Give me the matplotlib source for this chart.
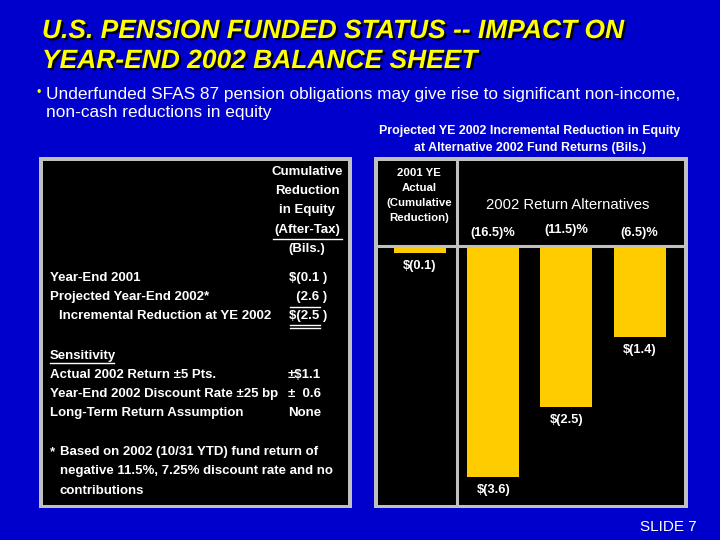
import matplotlib
matplotlib.use('Agg')
import matplotlib.pyplot as plt
import matplotlib.patheffects as pe
from matplotlib.patches import Rectangle

# Data
bar_labels = ['2001 YE Actual', '(16.5)%', '(11.5)%', '(6.5)%']
reduction = [0.1, 3.6, 2.5, 1.4]
value_text = ['$(0.1)', '$(3.6)', '$(2.5)', '$(1.4)']
return_alts = ['(16.5)%', '(11.5)%', '(6.5)%']

row_labels = ['Year-End 2001', 'Projected Year-End 2002*', 'Incremental Reduction at YE 2002']
row_values = ['$(0.1 )', '  (2.6 )', '$(2.5 )']
sens_labels = ['Actual 2002 Return \u00b15 Pts.', 'Year-End 2002 Discount Rate \u00b125 bp',
               'Long-Term Return Assumption']
sens_values = ['\u00b1$1.1', '\u00b1  0.6', 'None']

BLUE = '#0000CC'
GRAY = '#C0C0C0'
GOLD = '#FFCC00'
YELLOW = '#FFFF00'
SANS = ['Liberation Sans', 'DejaVu Sans']

fig = plt.figure(figsize=(7.2, 5.4), dpi=100, facecolor=BLUE)
bg = fig.add_axes([0, 0, 1, 1])
bg.set_xlim(0, 720)
bg.set_ylim(540, 0)
bg.axis('off')

# title with drop shadow
shadow = [pe.withSimplePatchShadow(offset=(1.6, -1.6), shadow_rgbFace='black', alpha=1.0)]
for i, line in enumerate(['U.S. PENSION FUNDED STATUS -- IMPACT ON', 'YEAR-END 2002 BALANCE SHEET']):
    bg.text(42, 31 + i * 30, line, color=YELLOW, fontsize=19, fontweight='bold', style='italic',
            family=SANS, va='center', path_effects=shadow)

bg.text(39, 93, '\u2022', color=YELLOW, fontsize=9, va='center', ha='center', family=SANS)
bg.text(46, 94, 'Underfunded SFAS 87 pension obligations may give rise to significant non-income,',
        color='white', fontsize=12.4, family=SANS, va='center')
bg.text(46, 113, 'non-cash reductions in equity', color='white', fontsize=12.4, family=SANS, va='center')

# boxes
for x0, x1 in [(39, 352), (374, 688)]:
    bg.add_patch(Rectangle((x0, 157), x1 - x0, 351, facecolor=GRAY, edgecolor='none'))
    bg.add_patch(Rectangle((x0 + 4, 161), x1 - x0 - 8, 344, facecolor='black', edgecolor='none'))

# left table
tk = dict(color='white', fontsize=9.5, fontweight='bold', family=SANS, va='center')
for y, s in zip([172, 191, 210, 230, 249], ['Cumulative', 'Reduction', 'in Equity', '(After-Tax)', '(Bils.)']):
    bg.text(307, y, s, ha='center', **tk)
bg.plot([273, 342], [238.5, 238.5], color='white', lw=1)

for y, x, s, v in zip([278, 297, 316], [50, 50, 59], row_labels, row_values):
    bg.text(x, y, s, **tk)
    bg.text(289, y, v, **tk)
bg.plot([290, 320], [307, 307], color='white', lw=1)
bg.plot([290, 320], [325, 325], color='white', lw=1)
bg.plot([290, 320], [327.5, 327.5], color='white', lw=1)

bg.text(50, 356, 'Sensitivity', **tk)
bg.plot([50, 114], [362.5, 362.5], color='white', lw=1)
for y, s, v in zip([375, 394, 413], sens_labels, sens_values):
    bg.text(50, y, s, **tk)
    bg.text(288, y, v, **tk)

bg.text(50, 452, '*', **tk)
for y, s in zip([452, 471, 491], ['Based on 2002 (10/31 YTD) fund return of',
                                   'negative 11.5%, 7.25% discount rate and no',
                                   'contributions']):
    bg.text(60, y, s, **tk)

# chart header
bg.text(530, 131, 'Projected YE 2002 Incremental Reduction in Equity', color='white', fontsize=8.9,
        fontweight='bold', family=SANS, ha='center', va='center')
bg.text(530, 148, 'at Alternative 2002 Fund Returns (Bils.)', color='white', fontsize=8.9,
        fontweight='bold', family=SANS, ha='center', va='center')
for y, s in zip([173, 188, 203, 218], ['2001 YE', 'Actual', '(Cumulative', 'Reduction)']):
    bg.text(419, y, s, color='white', fontsize=8.2, fontweight='bold', family=SANS,
            ha='center', va='center')
bg.text(568, 205, '2002 Return Alternatives', color='white', fontsize=10.7, family=SANS,
        ha='center', va='center')
bg.plot([457, 457], [161, 505], color=GRAY, lw=2.2)
bg.plot([378, 684], [246, 246], color=GRAY, lw=2.2)

bg.text(697, 527, 'SLIDE 7', color='white', fontsize=11, family=SANS, ha='right', va='center')

# bar chart
px_per_unit = 64.0
ax = fig.add_axes([378 / 720, 1 - 505 / 540, 306 / 720, (505 - 247) / 540])
ax.set_facecolor('none')
ax.axis('off')
ax.set_ylim(-(505 - 247) / px_per_unit, 0)
ax.set_xlim(-0.574, 3.607)
xs = list(range(len(reduction)))
bars = ax.bar(xs, [-r for r in reduction], width=0.71, color=GOLD, align='center')
for b, t in zip(bars, value_text):
    ax.annotate(t, (b.get_x() + b.get_width() / 2, b.get_height()), xytext=(0, -13),
                textcoords='offset pixels', ha='center', va='center', color='white',
                fontsize=9.3, fontweight='bold', family=SANS)
for x, s, ypix in zip(xs[1:], return_alts, [233, 230, 233]):
    ax.text(x, (247 - ypix) / px_per_unit, s, ha='center', va='center', color='white',
            fontsize=9.2, fontweight='bold', family=SANS, clip_on=False)

fig.savefig('out.png', dpi=100, facecolor=BLUE)
